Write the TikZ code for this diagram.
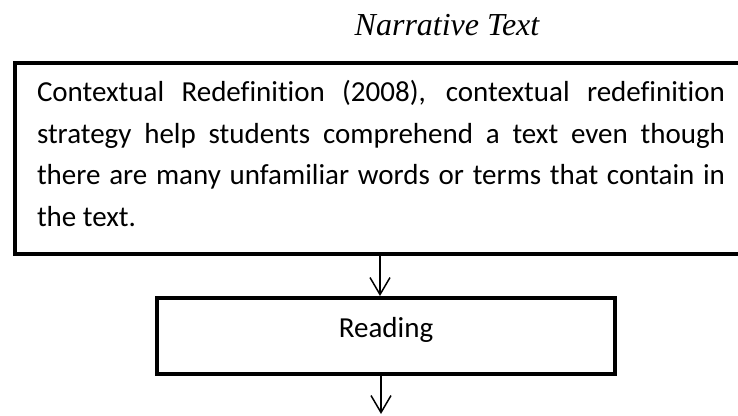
\documentclass[tikz,border=0pt]{standalone}
\usepackage{fontspec}
\setmainfont[Ligatures=CommonOff]{Carlito}
\newfontfamily\titlefont{Liberation Serif}
\usetikzlibrary{arrows.meta}
\hbadness=10000
\tikzset{
  frame/.style={draw=black, line width=4pt, inner sep=0pt},
  flow/.style={draw=black, line width=1.5pt, -{Straight Barb[length=17pt,width=20pt,line width=1.5pt]}}
}
\begin{document}
\begin{tikzpicture}[x=1pt,y=-1pt]
\useasboundingbox (0,0) rectangle (738,415);
\begin{scope}
\clip (0,0) rectangle (738,415);
\node[font=\titlefont\itshape\fontsize{32}{38}\selectfont, anchor=base] (title) at (447,35) {Narrative Text};
\node[frame, anchor=north west, minimum width=732pt, minimum height=191pt, inner xsep=22pt, text width=688pt, align=justify, font=\fontsize{29}{41.5}\selectfont] (big) at (13,61)
  {Contextual Redefinition (2008), contextual redefinition\linebreak strategy help students comprehend a text even though\linebreak there are many unfamiliar words or terms that contain in\linebreak the text.\rule[-10pt]{0pt}{10pt}};
\node[frame, minimum width=458pt, minimum height=76pt, text height=20pt, text depth=18pt, font=\fontsize{29}{35}\selectfont] (reading) at (386,336) {Reading};
\coordinate (end) at (381,414);
\draw[flow] (big.south -| 380,0) -- (reading.north -| 380,0);
\draw[flow] (reading.south -| end) -- (end);
\end{scope}
\end{tikzpicture}
\end{document}
